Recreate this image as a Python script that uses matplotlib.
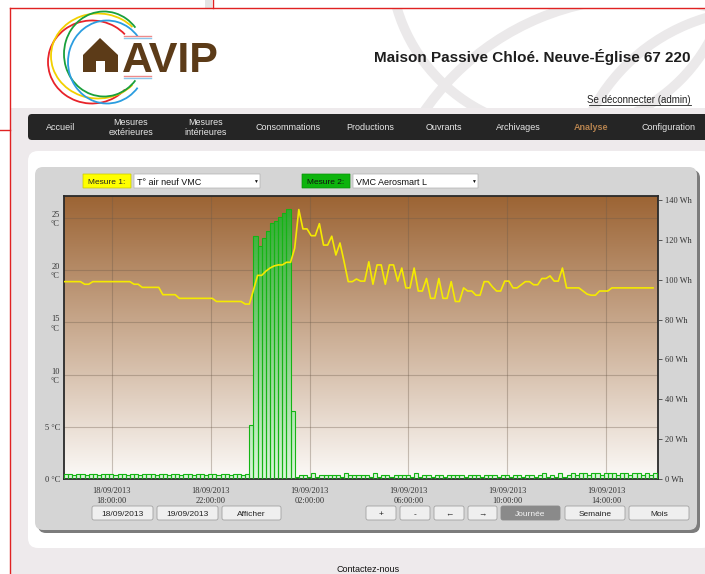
import matplotlib
matplotlib.use('Agg')
import matplotlib.pyplot as plt
import matplotlib.dates as mdates
from matplotlib.patches import FancyBboxPatch, Rectangle, Arc, Polygon
from matplotlib.path import Path
import numpy as np
import pandas as pd

plt.rcParams['font.family'] = ['Liberation Serif', 'DejaVu Serif']
UI = ['Liberation Sans', 'DejaVu Sans']

# ---- data: 10-minute samples, 18/09/2013 16:04 -> 19/09/2013 16:04 ----
start = '2013-09-18 16:04'

# Mesure 1 : T° air neuf VMC (°C)
temp_vmc = [
    18.9, 18.9, 18.9, 18.9, 18.9, 18.65, 18.65, 18.9, 18.9, 18.9,
    18.9, 18.9, 18.9, 18.9, 18.9, 18.9, 18.9, 18.65, 18.65, 18.35,
    18.35, 18.35, 18.35, 18.35, 17.65, 17.65, 17.65, 17.65, 17.3, 17.3,
    17.3, 17.3, 17.3, 17.3, 17.3, 17.3, 17.3, 17.0, 17.0, 17.0,
    17.0, 17.0, 17.0, 17.0, 16.75, 16.75, 18.1, 19.5, 19.5, 19.9,
    20.2, 20.4, 20.5, 20.5, 20.75, 20.75, 22.1, 25.8, 23.95, 23.95,
    23.3, 23.3, 24.45, 22.4, 22.4, 23.25, 21.45, 22.6, 20.8, 18.9,
    18.9, 19.15, 18.95, 18.95, 20.8, 18.65, 20.5, 20.5, 18.65, 20.5,
    20.5, 18.95, 20.2, 18.3, 18.3, 20.2, 18.0, 18.0, 19.2, 17.3,
    17.3, 19.2, 17.3, 17.3, 18.9, 17.0, 17.0, 18.3, 18.0, 18.0,
    17.6, 17.6, 18.9, 18.9, 18.4, 18.0, 18.0, 18.95, 18.95, 18.3,
    18.3, 18.6, 18.9, 18.9, 18.6, 18.6, 19.2, 19.2, 19.45, 18.95,
    18.95, 20.2, 18.3, 18.3, 18.3, 18.3, 18.0, 17.7, 17.6, 17.6,
    18.0, 18.0, 18.0, 18.3, 18.3, 18.3, 18.3, 18.3, 18.3, 18.3,
    18.3, 18.3, 18.3, 18.3,
]

# Mesure 2 : VMC Aerosmart L (Wh)
energy_wh = [
    2.7, 2.7, 1.9, 2.7, 2.7, 1.9, 2.7, 2.7, 1.9, 2.7,
    2.7, 2.7, 1.9, 2.7, 2.7, 1.9, 2.7, 2.7, 1.9, 2.7,
    2.7, 2.7, 1.9, 2.7, 2.7, 1.9, 2.7, 2.7, 1.9, 2.7,
    2.7, 1.9, 2.7, 2.7, 1.9, 2.7, 2.7, 1.9, 2.7, 2.7,
    1.9, 2.7, 2.7, 1.9, 2.7,
    27, 122, 117, 121, 124.4, 128.3, 129.5, 131.5, 133.3, 135.3, 34,
    1.1, 1.9, 1.9, 1.1, 3.0, 1.1, 1.9, 1.9, 1.9, 1.9, 1.9, 1.1, 3.0, 1.9, 1.9, 1.9,
    1.9, 1.9, 1.1, 3.0, 1.1, 1.9, 1.9, 1.1, 1.9, 1.9,
    1.9, 1.9, 1.1, 3.0, 1.1, 1.9, 1.9, 1.1, 1.9, 1.9,
    1.1, 1.9, 1.9, 1.9, 1.9, 1.1, 1.9, 1.9, 1.9, 1.1,
    1.9, 1.9, 1.9, 1.1, 1.9, 1.9, 1.1, 1.9, 1.9, 1.1,
    1.9, 1.9, 1.1, 1.9, 3.0, 1.1, 1.9, 1.1, 3.0, 1.1,
    1.9, 3.0, 1.9, 3.0, 3.0, 1.9, 3.0, 3.0, 1.9, 3.0,
    3.0, 3.0, 1.9, 3.0, 3.0, 1.9, 3.0, 3.0, 1.9, 3.0,
    1.9, 3.0,
]

temp_ticks = [0, 5, 10, 15, 20, 25]
temp_labels = ['0 °C', '5 °C', '10\n°C', '15\n°C', '20\n°C', '25\n°C']
wh_ticks = [0, 20, 40, 60, 80, 100, 120, 140]

nav_items = ['Accueil', 'Mesures\nextérieures', 'Mesures\nintérieures', 'Consommations',
             'Productions', 'Ouvrants', 'Archivages', 'Analyse', 'Configuration']
nav_x = [61, 131, 206, 288, 370, 444, 518, 591, 668]

times = pd.date_range(start, periods=len(temp_vmc), freq='10min')
x = mdates.date2num(times.to_pydatetime())
step = 1 / 144.0

fig = plt.figure(figsize=(7.05, 5.74), dpi=100)
fig.patch.set_facecolor('white')

# ---------------- page decoration (pixel coordinates) ----------------
bg = fig.add_axes([0, 0, 1, 1], zorder=-5)
bg.set_xlim(0, 705)
bg.set_ylim(574, 0)
bg.axis('off')


def box(x0, y0, x1, y1, fc, ec='none', r=0.0, lw=0.8, z=1):
    p = FancyBboxPatch((x0, y0), x1 - x0, y1 - y0,
                       boxstyle='round,pad=0,rounding_size=%s' % r,
                       fc=fc, ec=ec, lw=lw, zorder=z)
    bg.add_patch(p)
    return p


def label(xx, yy, s, size=6, color='#222222', ha='center', **kw):
    bg.text(xx, yy, s, family=UI, fontsize=size, color=color, ha=ha,
            va='center_baseline', zorder=6, **kw)


# header arcs
clip = Rectangle((10, 8), 700, 100, transform=bg.transData)
for cx, cy, rr in [(640, 260, 262), (760, 200, 190), (560, -40, 170)]:
    a = Arc((cx, cy), 2 * rr, 2 * rr, color='#ebe9ea', lw=7, zorder=0)
    bg.add_patch(a)
    a.set_clip_path(clip)

# gray page body
bg.add_patch(Rectangle((10, 108), 700, 470, fc='#eeeaec', ec='none', zorder=1))

# red frame lines
bg.add_patch(Rectangle((205, 0), 7, 8, fc='#e4e4e4', ec='none', zorder=1))
bg.plot([10, 705], [8, 8], color='#e02222', lw=1, zorder=3)
bg.plot([213, 213], [0, 8], color='#e02222', lw=1, zorder=3)
bg.plot([10, 10], [8, 574], color='#e02222', lw=1, zorder=3)
bg.plot([0, 10], [130, 130], color='#e02222', lw=1, zorder=3)

# logo
for (cx, cy, w, h), col in zip([(92, 62, 88, 83), (98, 56, 94, 85), (104, 54, 80, 85), (107, 62, 78, 83)],
                               ['#e8232a', '#f2d000', '#1aa03c', '#2b9de0']):
    bg.add_patch(Arc((cx, cy), w, h, theta1=40, theta2=320, color=col, lw=1.3, zorder=2))
bg.add_patch(Polygon([(83, 55), (100, 38), (118, 55), (118, 72), (105, 72), (105, 61),
                      (96, 61), (96, 72), (83, 72)], closed=True, fc='#5c3b18', ec='none', zorder=3))
for yy in (37, 77):
    bg.plot([124, 151], [yy - 1, yy - 1], color='#ef8a8a', lw=1, zorder=3)
    bg.plot([124, 151], [yy + 1, yy + 1], color='#8cc6ea', lw=1, zorder=3)
bg.text(122, 72, 'AVIP', family=UI, fontsize=31, fontweight='bold', color='#5c3b18',
        ha='left', va='baseline', zorder=4)

bg.text(691, 62, 'Maison Passive Chloé. Neuve-Église 67 220', family=UI, fontsize=11,
        fontweight='bold', color='#1e1e1e', ha='right', va='baseline', zorder=4)
bg.text(691, 103, 'Se déconnecter (admin)', family=UI, fontsize=7, color='#222222',
        ha='right', va='baseline', zorder=4)
bg.plot([589, 691], [105, 105], color='#222222', lw=0.6, zorder=4)

# nav bar
box(28, 114, 712, 140, '#252525', r=4, z=2)
for item, nx in zip(nav_items, nav_x):
    col = '#b5824e' if item == 'Analyse' else '#e8e8e8'
    bg.text(nx, 127.5, item, family=UI, fontsize=6.5, color=col, ha='center', va='center',
            fontweight='bold' if item == 'Analyse' else 'normal', linespacing=1.25, zorder=3)

# panels
box(28, 151, 712, 548, 'white', r=10, z=2)
box(38, 170, 700, 533, '#7c7c7c', r=8, z=2)
box(35, 167, 697, 530, '#d5d5d5', r=8, z=3)

# measure selectors
box(83, 174, 131, 188, '#ffff00', ec='#c8c800', lw=0.5, z=4)
label(107, 181.5, 'Mesure 1:', size=6)
box(134, 174, 260, 188, 'white', ec='#b0b0b0', lw=0.5, z=4)
label(137, 181.5, 'T° air neuf VMC', size=6.5, color='#111', ha='left')
label(255, 181, '▼', size=3.5, color='#111')
box(302, 174, 350, 188, '#0db40d', ec='#0a900a', lw=0.5, z=4)
label(326, 181.5, 'Mesure 2:', size=6, color='#111')
box(353, 174, 478, 188, 'white', ec='#b0b0b0', lw=0.5, z=4)
label(356, 181.5, 'VMC Aerosmart L', size=6.5, color='#111', ha='left')
label(473, 181, '▼', size=3.5, color='#111')

# buttons
buttons = [('18/09/2013', 92, 153), ('19/09/2013', 157, 218), ('Afficher', 222, 281),
           ('+', 366, 396), ('-', 400, 430), ('←', 434, 464), ('→', 468, 497),
           ('Journée', 501, 560), ('Semaine', 565, 625), ('Mois', 629, 689)]
for name, b0, b1 in buttons:
    active = name == 'Journée'
    box(b0, 506, b1, 520, '#8a8a8a' if active else '#efefef',
        ec='#8a8a8a' if active else '#a2a2a2', r=2, lw=0.6, z=4)
    label((b0 + b1) / 2, 513.5, name, size=6, color='#f4f4f4' if active else '#222')

label(368, 568, 'Contactez-nous', size=6.5, color='#111')

# ---------------- chart ----------------
W, H = 705.0, 574.0
ax = fig.add_axes([64 / W, (H - 479) / H, 594 / W, 283 / H], zorder=2)
ax_t = ax.twinx()

wmax = 142.0
tmax = 27.1

# background gradient (brown -> white)
top = np.array([156, 100, 52]) / 255.0
bot = np.array([252, 250, 248]) / 255.0
f = np.linspace(0, 1, 256)[:, None]
grad = (top * (1 - f) + bot * f)[:, None, :]
ax.imshow(grad, extent=[0, 1, 0, 1], transform=ax.transAxes, aspect='auto', zorder=0)

# grid
ax.set_axisbelow(True)
ax.grid(axis='x', color='#6b5a4a', alpha=0.35, lw=0.8)
for t in temp_ticks[1:]:
    ax.plot([0, 1], [t, t], transform=ax_t.get_yaxis_transform(), color='#6b5a4a',
            alpha=0.35, lw=0.8, zorder=1)

# bars with green vertical gradient
bars = ax.bar(x, energy_wh, width=step, align='edge', facecolor='none',
              edgecolor='#14b414', lw=0.8, zorder=3)
bar_path = Path.make_compound_path(*[r.get_path().transformed(r.get_patch_transform()) for r in bars])
gtop = np.array([40, 168, 40]) / 255.0
gbot = np.array([218, 246, 218]) / 255.0
ggrad = (gtop * (1 - f) + gbot * f)[:, None, :]
gim = ax.imshow(ggrad, extent=[x[0], x[-1] + step, 0, wmax], aspect='auto', zorder=2)
gim.set_clip_path(bar_path, ax.transData)

# temperature line
ax_t.plot(x, temp_vmc, color='#f5ea00', lw=1.2, zorder=5)

x0 = mdates.date2num(pd.Timestamp(start).to_pydatetime())
ax.set_xlim(x0, x0 + 1 + 2 / 1440.0)
ax.set_ylim(0, wmax)
ax_t.set_ylim(0, tmax)

ax.xaxis.set_major_locator(mdates.HourLocator(byhour=[2, 6, 10, 14, 18, 22]))
ax.xaxis.set_major_formatter(mdates.DateFormatter('%d/%m/%Y\n%H:%M:%S'))
ax.tick_params(axis='x', length=0, pad=6, labelsize=6, labelcolor='#333333')

ax.yaxis.tick_right()
ax.set_yticks(wh_ticks, labels=['%d Wh' % v for v in wh_ticks])
ax.tick_params(axis='y', which='both', right=True, left=False, labelright=True, labelleft=False,
               length=3, width=0.7, color='#555555', pad=2, labelsize=6, labelcolor='#333333')

ax_t.yaxis.tick_left()
ax_t.set_yticks(temp_ticks, labels=temp_labels)
ax_t.tick_params(axis='y', left=True, right=False, labelleft=True, labelright=False,
                 length=0, pad=3, labelsize=6, labelcolor='#333333')

for s in ax.spines.values():
    s.set_color('#2a2a2a')
    s.set_linewidth(1.3)
for s in ax_t.spines.values():
    s.set_visible(False)

fig.savefig('out.png', dpi=100)
